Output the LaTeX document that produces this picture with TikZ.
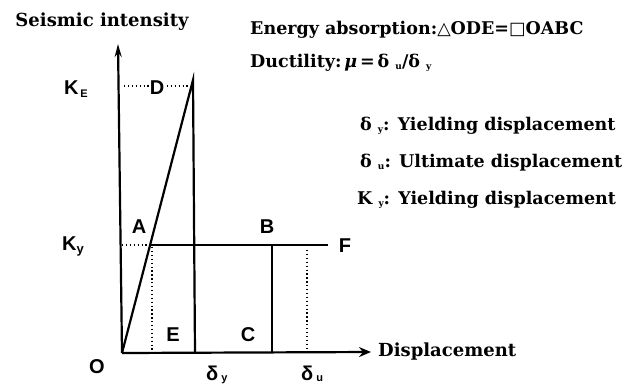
\documentclass[tikz,border=0pt]{standalone}
\usepackage{fontspec}
\setmainfont{DejaVu Serif}
\newfontfamily\lsans{Liberation Sans}
\newfontfamily\dvs{DejaVu Sans}
\usetikzlibrary{arrows.meta}
\begin{document}
\begin{tikzpicture}[x=1pt,y=-1pt,
  curve/.style={line width=2.2pt},
  axis/.style={line width=2.2pt},
  guide/.style={line width=1.3pt, dash pattern=on 1.3pt off 2.6pt},
  ptlabel/.style={font=\lsans\bfseries\fontsize{20}{20}\selectfont, inner sep=0pt},
  rtext/.style={font=\bfseries\fontsize{17.5}{17.5}\selectfont, anchor=west, inner sep=0pt},
  axlabel/.style={font=\bfseries\fontsize{18}{18}\selectfont, inner sep=0pt}]
\useasboundingbox (0,0) rectangle (644,386);
% key points
\coordinate (O) at (122,353);
\coordinate (Ytip) at (118,44);
\coordinate (Xtip) at (371,352);
\coordinate (Dp) at (193,80);
\coordinate (Ebot) at (195,353);
\coordinate (Ap) at (150,245);
\coordinate (Bp) at (272,245);
\coordinate (Cp) at (272,353);
\coordinate (Fp) at (328,245);
\coordinate (KyL) at (122,245);
\coordinate (KeL) at (124,86);
\coordinate (KeR) at (190,86);
\coordinate (Adot) at (152,353);
\coordinate (Atop) at (152,247);
\coordinate (Udot) at (307,250);
\coordinate (Ubot) at (307,353);
% axes
\draw[axis,-{Stealth[length=13pt,width=7pt]}] (O) -- (Ytip);
\draw[axis,-{Stealth[length=12pt,width=10pt,inset=4pt]}] (O) -- (Xtip);
% curves
\draw[curve, line join=miter] (O) -- (Dp) -- (Ebot);
\draw[curve] (Ap) -- (Fp);
\draw[curve] (Bp) -- (Cp);
% guides
\draw[guide] (KeL) -- (KeR);
\draw[guide] (KyL) -- (Ap);
\draw[guide] (Atop) -- (Adot);
\draw[guide] (Udot) -- (Ubot);
% point labels
\node[ptlabel, fill=white, inner sep=1pt] (lD) at (157,88) {D};
\node[ptlabel] (lKE) at (76,89) {K\raisebox{-3pt}{\fontsize{11}{11}\selectfont\,E}};
\node[ptlabel] (lKy) at (73,246) {K\raisebox{-3pt}{\fontsize{13}{13}\selectfont y}};
\node[ptlabel] (lA) at (139,227) {A};
\node[ptlabel] (lB) at (267,227) {B};
\node[ptlabel] (lF) at (345,246) {F};
\node[ptlabel] (lE) at (173,335) {E};
\node[ptlabel] (lC) at (248,335) {C};
\node[ptlabel] (lO) at (97,367) {O};
\node[ptlabel, anchor=base west] (ldy) at (206,380) {δ\raisebox{-1pt}{\fontsize{11}{11}\selectfont\ y}};
\node[ptlabel, anchor=base west] (ldu) at (301,380) {δ\raisebox{-1pt}{\fontsize{11}{11}\selectfont\ u}};
% axis labels
\node[axlabel] (lSI) at (102,22) {Seismic intensity};
\node[axlabel, anchor=west] (lDisp) at (378,352) {Displacement};
% right texts
\node[rtext] (t1) at (250,30) {Energy absorption:{\dvs\mdseries △}ODE={\dvs\mdseries □}OABC};
\node[rtext] (t2) at (250,63) {Ductility:\,{\itshape μ}\,=\,δ\ \raisebox{-2pt}{\fontsize{9}{9}\selectfont u}/δ\ \raisebox{-2pt}{\fontsize{9}{9}\selectfont y}};
\node[rtext] (t3) at (360,126) {δ\ \raisebox{-2pt}{\fontsize{9}{9}\selectfont y}: Yielding displacement};
\node[rtext] (t4) at (360,163) {δ\ \raisebox{-2pt}{\fontsize{9}{9}\selectfont u}: Ultimate displacement};
\node[rtext] (t5) at (357,200) {K\ \raisebox{-2pt}{\fontsize{9}{9}\selectfont y}: Yielding displacement};
\end{tikzpicture}
\end{document}
